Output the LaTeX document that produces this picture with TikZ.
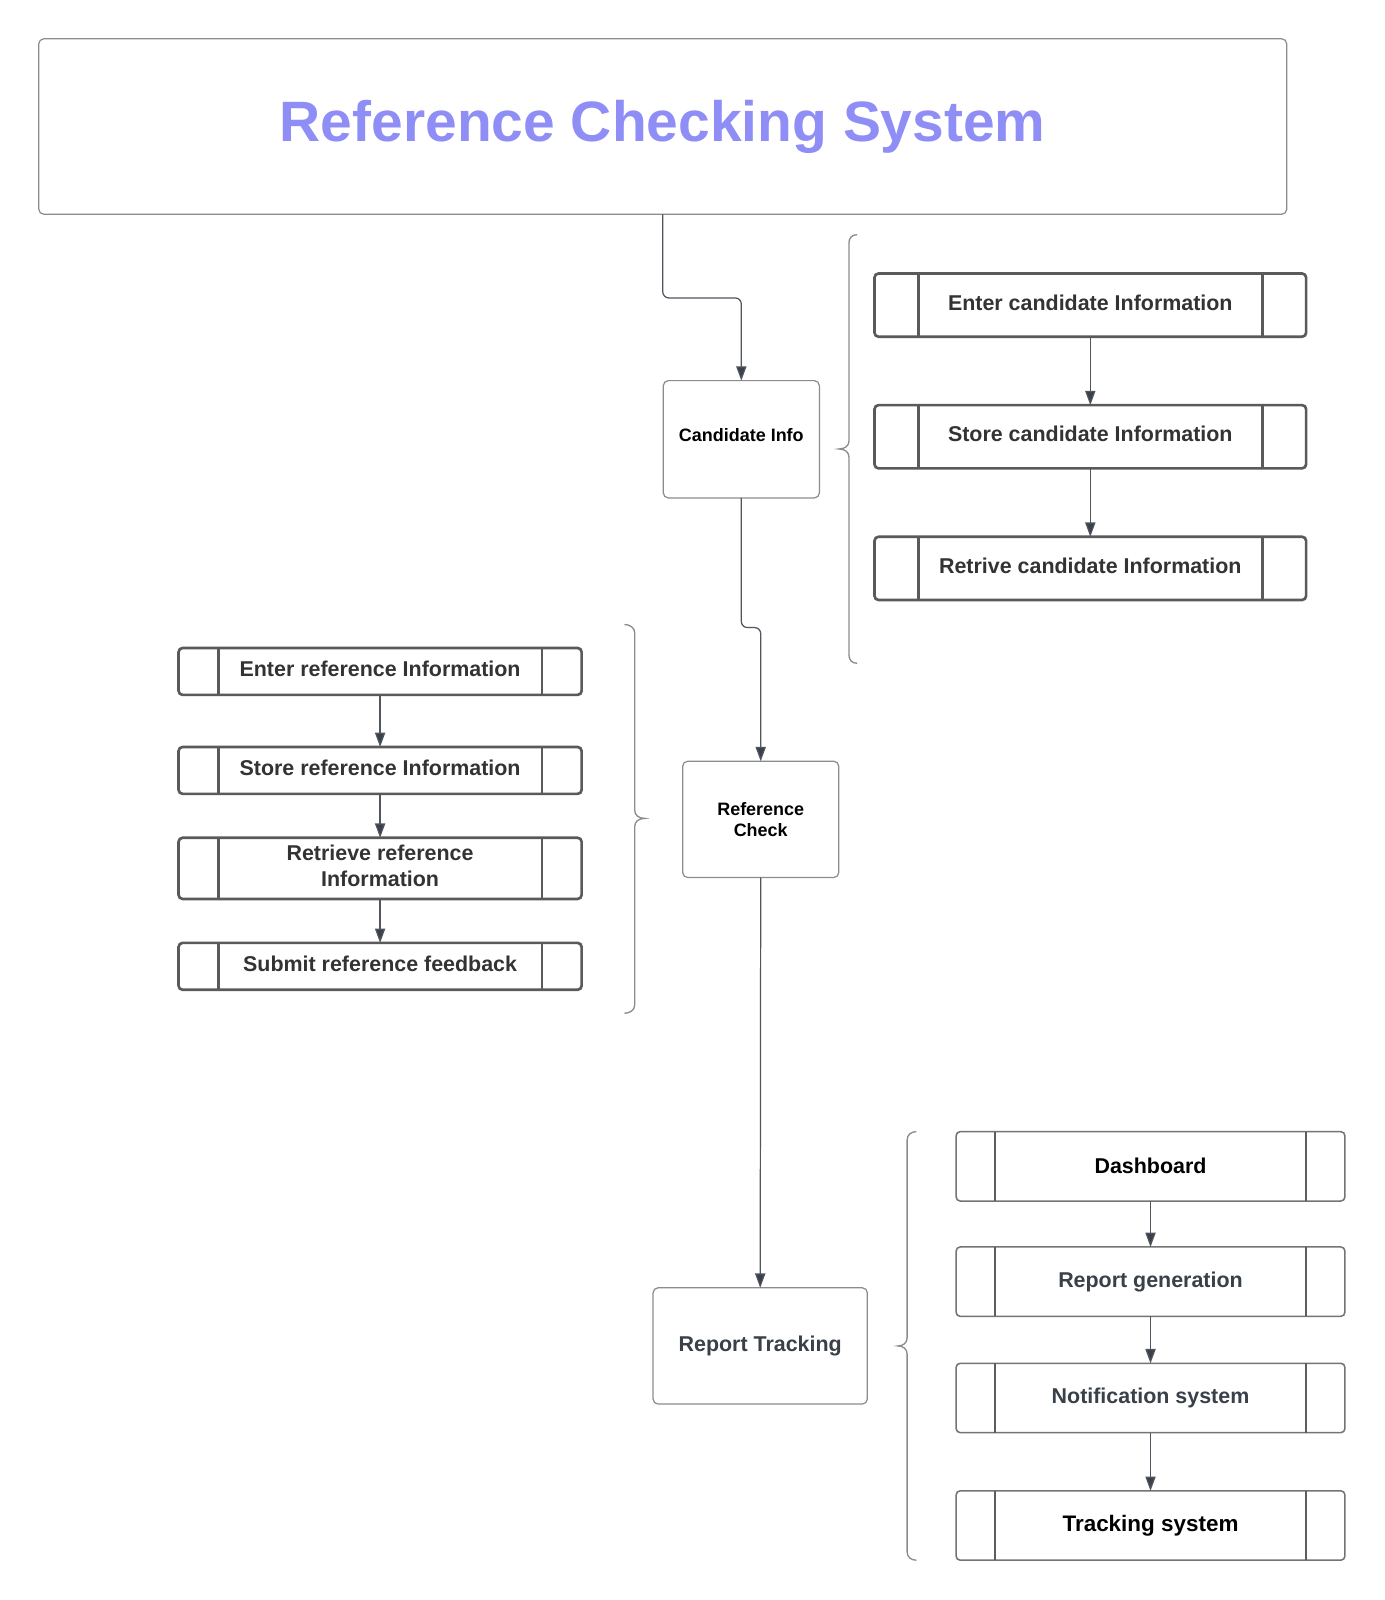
\documentclass[tikz,border=0pt]{standalone}
\usepackage{fontspec}
\setmainfont{Liberation Sans}
\usetikzlibrary{arrows.meta,calc}
\definecolor{titlecol}{HTML}{8F8DF6}
\definecolor{boxdark}{HTML}{5A5A5A}
\definecolor{txtdark}{HTML}{333333}
\definecolor{slate}{HTML}{3A4049}
\definecolor{thingray}{HTML}{8C8C8C}
\definecolor{repgray}{HTML}{747474}
\definecolor{conncol}{HTML}{50555E}
\definecolor{tipcol}{HTML}{3B414B}
\tikzset{
  bigtxt/.style={font=\fontsize{21}{26}\selectfont\bfseries},
  smalltxt/.style={font=\fontsize{17.6}{21}\selectfont\bfseries},
  mainbox/.style={draw=thingray, line width=1.2pt, rounded corners=5pt, outer sep=0pt, inner sep=0pt, align=center},
  candbox/.style={draw=boxdark, line width=2.6pt, rounded corners=4pt, outer sep=0pt, inner sep=0pt, text=txtdark, bigtxt, align=center, text depth=5pt},
  candline/.style={draw=boxdark, line width=2.6pt},
  repbox/.style={draw=repgray, line width=1.5pt, rounded corners=4pt, outer sep=0pt, inner sep=0pt, text=slate, bigtxt, align=center},
  repline/.style={draw=repgray!80!black, line width=1.3pt},
  conn/.style={draw=conncol, line width=1.2pt, rounded corners=6pt, -{Triangle[length=14pt,width=10pt,fill=tipcol]}},
  bracestyle/.style={draw=thingray, line width=1.3pt},
}
% name, x, y, w, h, inset, style prefix, text
\newcommand\pbox[8]{%
  \node[#7box, minimum width=#4, minimum height=#5] (#1) at (#2,#3) {#8};
  \draw[#7line] ([xshift=#6]#1.north west) -- ([xshift=#6]#1.south west);
  \draw[#7line] ([xshift=-#6]#1.north east) -- ([xshift=-#6]#1.south east);
}
\begin{document}
\begin{tikzpicture}[x=1pt,y=-1pt]
\useasboundingbox[fill=white] (0,0) rectangle (1357,1568);

% title
\node[mainbox, minimum width=1223, minimum height=172, text=titlecol,
      font=\fontsize{55.8}{60}\selectfont\bfseries] (title) at (649.5,124) {Reference Checking System};

% main column
\node[mainbox, minimum width=153, minimum height=115, smalltxt, text depth=9pt] (cinfo) at (726.5,430.5) {Candidate Info};
\node[mainbox, minimum width=153, minimum height=114, smalltxt] (rcheck) at (745.5,803) {Reference\\Check};
\node[mainbox, minimum width=210, minimum height=114, bigtxt, text=slate] (rtrack) at (745,1319) {Report Tracking};

\draw[conn] (title.south) |- ($(cinfo.north)+(0,-81)$) -- (cinfo.north);
\draw[conn] (cinfo.south) |- ($(rcheck.north)+(0,-131)$) -- (rcheck.north);
\draw[conn] (rcheck.south) -- (rtrack.north);

% candidate sub-process
\pbox{c1}{1068.5}{299}{423}{62}{43pt}{cand}{Enter candidate Information}
\pbox{c2}{1068.5}{428}{423}{62}{43pt}{cand}{Store candidate Information}
\pbox{c3}{1068.5}{557}{423}{62}{43pt}{cand}{Retrive candidate Information}
\draw[conn] (c1.south) -- (c2.north);
\draw[conn] (c2.south) -- (c3.north);

% reference sub-process
\pbox{r1}{372.5}{658}{395}{46}{39pt}{cand}{Enter reference Information}
\pbox{r2}{372.5}{755}{395}{46}{39pt}{cand}{Store reference Information}
\pbox{r3}{372.5}{851}{395}{60}{39pt}{cand}{Retrieve reference\\Information}
\pbox{r4}{372.5}{947}{395}{46}{39pt}{cand}{Submit reference feedback}
\draw[conn] (r1.south) -- (r2.north);
\draw[conn] (r2.south) -- (r3.north);
\draw[conn] (r3.south) -- (r4.north);

% report sub-process
\pbox{t1}{1127.5}{1143}{381}{68}{38pt}{rep}{\color{black}Dashboard}
\pbox{t2}{1127.5}{1256}{381}{68}{38pt}{rep}{Report generation}
\pbox{t3}{1127.5}{1370}{381}{68}{38pt}{rep}{Notification system}
\pbox{t4}{1127.5}{1495}{381}{68}{38pt}{rep}{\color{black}\fontsize{22}{26}\selectfont Tracking system}
\draw[conn] (t1.south) -- (t2.north);
\draw[conn] (t2.south) -- (t3.north);
\draw[conn] (t3.south) -- (t4.north);

% braces
\draw[bracestyle] (840,230) .. controls (835,230) and (832,233) .. (832,238) -- (832,432)
  .. controls (832,437) and (828,440) .. (822,440) .. controls (828,440) and (832,443) .. (832,448)
  -- (832,642) .. controls (832,647) and (835,650) .. (840,650);
\draw[bracestyle] (612,612) .. controls (617,612) and (622,615) .. (622,620) -- (622,794)
  .. controls (622,799) and (626,802) .. (632,802) .. controls (626,802) and (622,805) .. (622,810)
  -- (622,985) .. controls (622,990) and (617,993) .. (612,993);
\draw[bracestyle] (898,1109) .. controls (893,1109) and (889,1112) .. (889,1117) -- (889,1311)
  .. controls (889,1316) and (885,1319) .. (880,1319) .. controls (885,1319) and (889,1322) .. (889,1327)
  -- (889,1521) .. controls (889,1526) and (893,1529) .. (898,1529);
\end{tikzpicture}
\end{document}
